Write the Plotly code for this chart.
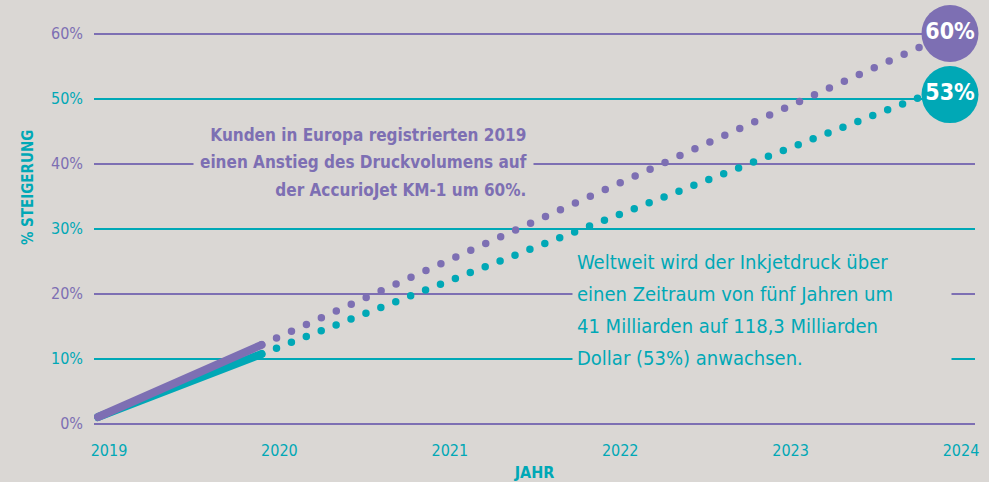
import plotly.graph_objects as go

# ---- data ----
series_names = ["Kunden in Europa (AccurioJet KM-1)", "Inkjetdruck weltweit"]
solid_x = [2019.0, 2019.96]
solid_purple = [1.0, 12.1]
solid_teal = [1.0, 10.7]
proj_x = [2019.96, 2024.0]
proj_purple = [12.1, 60.0]
proj_teal = [10.7, 52.0]
badge_x = [2024, 2024]
badge_y = [60.0, 50.6]
badge_labels = ["60%", "53%"]
year_ticks = [2019, 2020, 2021, 2022, 2023, 2024]
y_ticks_a = [0, 20, 40, 60]
y_ticks_b = [10, 30, 50]

PURPLE = "#7D6FB3"
TEAL = "#00A8B6"
BG = "#DAD7D4"
FONT = "DejaVu Sans Condensed, Lato, sans-serif"

fig = go.Figure()
# teal series on the lower layer axis, purple + badges on the overlaying axis (drawn on top)
fig.add_trace(go.Scatter(x=solid_x, y=solid_teal, mode="lines", yaxis="y",
                         line=dict(color=TEAL, width=8), name=series_names[1]))
fig.add_trace(go.Scatter(x=proj_x, y=proj_teal, mode="lines", yaxis="y",
                         line=dict(color=TEAL, width=7.5, dash="0px,16px"), name=series_names[1]))
fig.add_trace(go.Scatter(x=solid_x, y=solid_purple, mode="lines", yaxis="y2",
                         line=dict(color=PURPLE, width=8), name=series_names[0]))
fig.add_trace(go.Scatter(x=proj_x, y=proj_purple, mode="lines", yaxis="y2",
                         line=dict(color=PURPLE, width=7.5, dash="0px,16.4px"), name=series_names[0]))
fig.add_trace(go.Scatter(x=badge_x, y=badge_y, mode="markers+text", yaxis="y2",
                         marker=dict(size=57, color=[PURPLE, TEAL]),
                         text=badge_labels, textposition="middle center",
                         textfont=dict(family=FONT, size=23, color="white", weight="bold"),
                         cliponaxis=False))

fig.update_layout(
    width=989, height=482,
    margin=dict(l=94, r=14, t=13.5, b=51.5, autoexpand=False),
    paper_bgcolor=BG, plot_bgcolor=BG,
    showlegend=False,
    xaxis=dict(range=[2018.9765, 2024.1467], showgrid=False, zeroline=False, showline=False,
               automargin=False,
               tickvals=year_ticks, ticktext=[str(v) for v in year_ticks],
               tickfont=dict(family=FONT, size=16, color=TEAL), ticklabelshift=11,
               ticklabelstandoff=9,
               title=dict(text="JAHR", font=dict(family=FONT, size=16, color=TEAL, weight="bold"),
                          standoff=8)),
    yaxis=dict(range=[-1, 63], tickvals=y_ticks_a, ticktext=[f"{v}%" for v in y_ticks_a],
               automargin=False,
               gridcolor=PURPLE, gridwidth=1.5, zeroline=False, showline=False,
               tickfont=dict(family=FONT, size=16, color=PURPLE), ticklabelstandoff=10),
    yaxis2=dict(range=[-1, 63], overlaying="y", side="left", tickvals=y_ticks_b,
                ticktext=[f"{v}%" for v in y_ticks_b], automargin=False,
                gridcolor=TEAL, gridwidth=1.5, zeroline=False, showline=False,
                tickfont=dict(family=FONT, size=16, color=TEAL), ticklabelstandoff=10),
)

fig.add_annotation(text="% STEIGERUNG", textangle=-90, xref="paper", yref="paper",
                   x=-0.0749, y=0.5815, xanchor="center", yanchor="middle", showarrow=False,
                   font=dict(family=FONT, size=15, color=TEAL, weight="bold"))
lines1 = ["Kunden in Europa registrierten 2019", "einen Anstieg des Druckvolumens auf",
          "der AccurioJet KM-1 um 60%."]
fig.add_annotation(text="<br>".join(f'<span style="font-size:17px">{l}</span>' for l in lines1),
                   xref="paper", yref="paper", x=0.4995, y=0.644, xanchor="right", yanchor="middle",
                   align="right", showarrow=False, bgcolor=BG, borderpad=6,
                   font=dict(family=FONT, size=21, color=PURPLE, weight="bold"))
lines2 = ["Weltweit wird der Inkjetdruck über", "einen Zeitraum von fünf Jahren um",
          "41 Milliarden auf 118,3 Milliarden", "Dollar (53%) anwachsen."]
fig.add_annotation(text="<br>".join(f'<span style="font-size:20px">{l}</span>' for l in lines2),
                   xref="paper", yref="paper", x=0.5426, y=0.289, xanchor="left", yanchor="middle",
                   align="left", width=370, showarrow=False, bgcolor=BG, borderpad=4,
                   font=dict(family=FONT, size=24.6, color=TEAL))

css = ("var s=document.createElement('style');"
       "s.innerHTML='.scatterlayer .js-line{stroke-linecap:round !important;}';"
       "document.head.appendChild(s);")
fig.write_html("out.html", post_script=css)
